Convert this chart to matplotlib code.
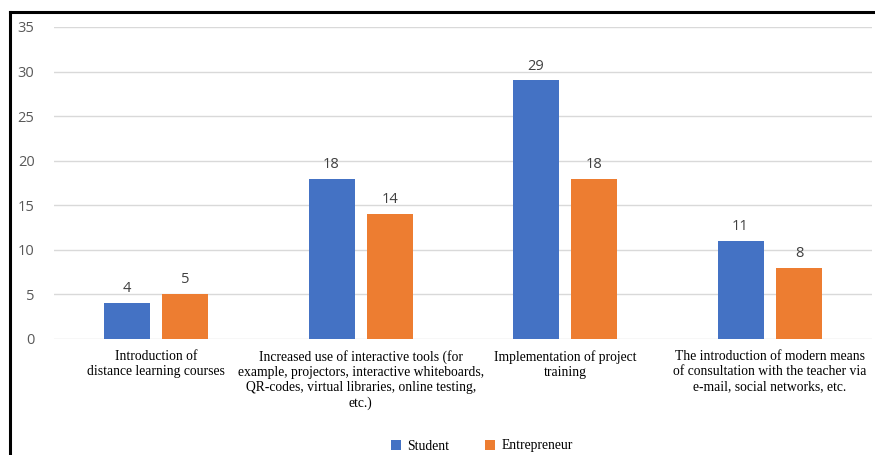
import matplotlib.pyplot as plt
import numpy as np
from matplotlib.lines import Line2D

categories = [
    'Introduction of\ndistance learning courses',
    'Increased use of interactive tools (for\nexample, projectors, interactive whiteboards,\nQR-codes, virtual libraries, online testing,\netc.)',
    'Implementation of project\ntraining',
    'The introduction of modern means\nof consultation with the teacher via\ne-mail, social networks, etc.',
]
student = [4, 18, 29, 11]
entrepreneur = [5, 14, 18, 8]
series_names = ['Student', 'Entrepreneur']
yticks = [0, 5, 10, 15, 20, 25, 30, 35]

BLUE = '#4472C4'
ORANGE = '#ED7D31'
GRAY = '#595959'

fig = plt.figure(figsize=(8.75, 4.55), dpi=100)
ax = fig.add_axes([54 / 875, 116 / 455, 818 / 875, 312 / 455])

x = np.arange(len(categories))
w = 0.225
off = 0.143
b1 = ax.bar(x - off, student, w, color=BLUE, label=series_names[0], zorder=3)
b2 = ax.bar(x + off, entrepreneur, w, color=ORANGE, label=series_names[1], zorder=3)

for bars in (b1, b2):
    for r in bars:
        ax.annotate('{:.0f}'.format(r.get_height()),
                    (r.get_x() + r.get_width() / 2, r.get_height()),
                    xytext=(0, 5), textcoords='offset points',
                    ha='center', va='bottom', fontsize=10.5, color='#404040',
                    family='Open Sans')

ax.set_xlim(-0.5, 3.5)
ax.set_ylim(0, 35)
ax.set_yticks(yticks)
ax.set_yticklabels([str(t) for t in yticks], fontsize=10.5, color=GRAY, family='Open Sans')
ax.tick_params(axis='y', length=0, pad=14)
ax.yaxis.grid(True, color='#d9d9d9', linewidth=1, zorder=0)
ax.set_axisbelow(True)

ax.set_xticks(x)
ax.set_xticklabels(categories, fontsize=9.8, family='Liberation Serif', color='#000000',
                   linespacing=1.2)
ax.tick_params(axis='x', length=0, pad=8)

for s in ax.spines.values():
    s.set_visible(False)

leg = fig.legend(loc='center', bbox_to_anchor=(482 / 875, 1 - 446 / 455), ncol=2,
                 frameon=False, prop={'family': 'Liberation Serif', 'size': 9.8},
                 handlelength=0.7, handleheight=0.7, columnspacing=2.6, handletextpad=0.5)

# image frame (top and left)
fig.add_artist(Line2D([10 / 875, 1], [1 - 12 / 455, 1 - 12 / 455], color='black',
                      linewidth=2.2, transform=fig.transFigure))
fig.add_artist(Line2D([10 / 875, 10 / 875], [1 - 12 / 455, 0], color='black',
                      linewidth=2.2, transform=fig.transFigure))

fig.savefig('out.png', dpi=100)
